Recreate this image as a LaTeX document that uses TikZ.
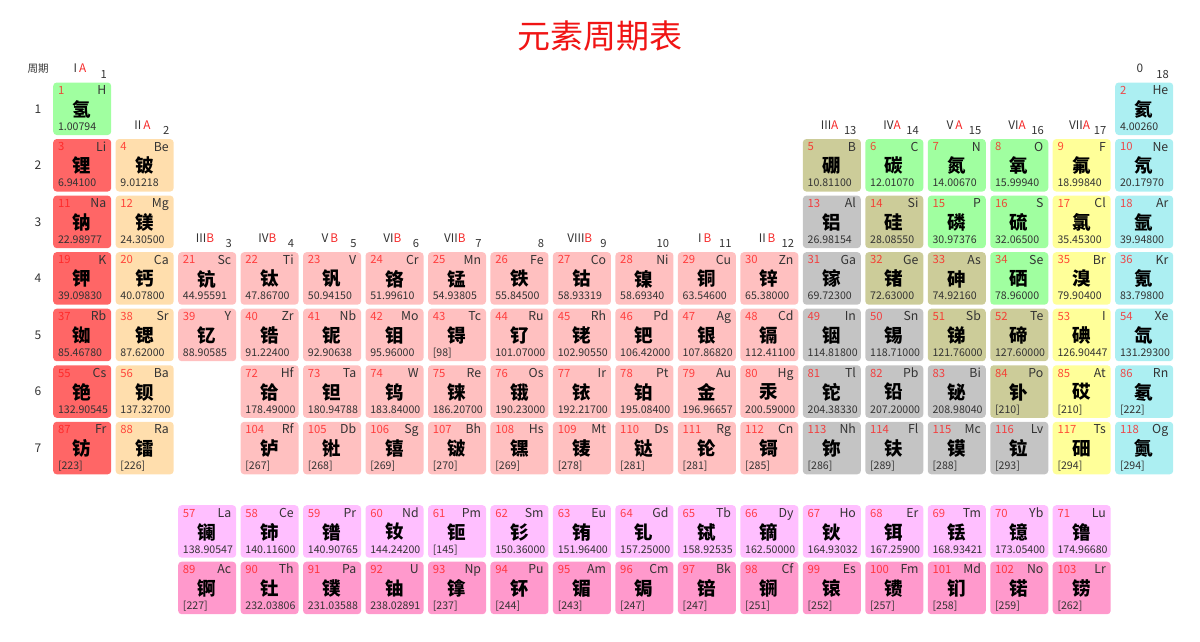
\documentclass[tikz,border=0pt]{standalone}
\usepackage{fontspec}
\setmainfont{Noto Sans CJK SC}
\definecolor{catnm}{HTML}{A0FFA0}
\definecolor{catalk}{HTML}{FF6666}
\definecolor{catae}{HTML}{FFDEAD}
\definecolor{cattm}{HTML}{FFC0C0}
\definecolor{catpt}{HTML}{C4C4C4}
\definecolor{catmd}{HTML}{CCCC99}
\definecolor{cathal}{HTML}{FFFF99}
\definecolor{catng}{HTML}{ACEFF2}
\definecolor{catla}{HTML}{FFBFFF}
\definecolor{catac}{HTML}{FF99CC}
\definecolor{numred}{HTML}{FF1A1A}
\definecolor{txtgray}{HTML}{333333}
\definecolor{lblred}{HTML}{F52828}
\definecolor{titlered}{HTML}{F01414}
\tikzset{
  cell/.style={anchor=north west, minimum width=58pt, minimum height=52.5pt, rounded corners=3.5pt, inner sep=0pt, draw=none},
  anum/.style={anchor=base west, inner sep=0pt, font=\fontsize{11.3}{12}\selectfont, text=numred, text opacity=0.78},
  sym/.style={anchor=base east, inner sep=0pt, font=\fontsize{12.3}{13}\selectfont, text=txtgray},
  cname/.style={inner sep=0pt, font=\fontsize{18.5}{20}\selectfont\bfseries, text=black},
  mass/.style={anchor=base west, inner sep=0pt, font=\fontsize{10.6}{12}\selectfont, text=txtgray},
  grp/.style={anchor=base, inner sep=0pt, font=\fontsize{11.8}{13}\selectfont, text=txtgray},
  grpnum/.style={anchor=base east, inner sep=0pt, font=\fontsize{11.2}{13}\selectfont, text=txtgray},
  per/.style={inner sep=0pt, font=\fontsize{12}{13}\selectfont, text=txtgray},
  ttl/.style={inner sep=0pt, font=\fontsize{33}{36}\selectfont, text=titlered}
}
\begin{document}
\begin{tikzpicture}[x=1pt,y=-1pt]
\useasboundingbox (0,0) rectangle (1200,641);
\node[ttl] (title) at (600,36) {元素周期表};
\node[per, font=\fontsize{10.5}{12}\selectfont] (perhead) at (38,69) {周期};
\foreach \r in {1,...,7}{
  \pgfmathsetmacro\yy{82.3+(\r-1)*56.55+26.5}
  \node[per] (p\r) at (38,\yy) {\r};
}
% group labels: column / top row / roman / letter / number
\foreach \c/\r/\ro/\le/\g in {1/1/I\,/A/1, 2/2/II\,/A/2, 3/4/III/B/3, 4/4/IV/B/4, 5/4/V\,/B/5, 6/4/VI/B/6, 7/4/VII/B/7, 9/4/VIII/B/9, 11/4/I\,/B/11, 12/4/II\,/B/12, 13/2/III/A/13, 14/2/IV/A/14, 15/2/V\,/A/15, 16/2/VI/A/16, 17/2/VII/A/17}{
  \pgfmathsetmacro\xx{53+(\c-1)*62.47}
  \pgfmathsetmacro\yy{82.3+(\r-1)*56.55}
  \node[grp] (gr\c) at (\xx+27,\yy-9.5) {\ro\textcolor{lblred}{\le}};
  \node[grpnum] (gn\c) at (\xx+54,\yy-4.3) {\g};
}
\foreach \c/\g in {8/8, 10/10}{
  \pgfmathsetmacro\xx{53+(\c-1)*62.47}
  \pgfmathsetmacro\yy{82.3+3*56.55}
  \node[grpnum] (gn\c) at (\xx+54,\yy-4.3) {\g};
}
\pgfmathsetmacro\xo{53+17*62.47}
\node[grp] (gr18) at (\xo+25,82.3-9.5) {0};
\node[grpnum] (gn18) at (\xo+54,82.3-4.3) {18};
% elements
\foreach \c/\r/\z/\s/\n/\m/\k in {
1/1/1/H/氢/1.00794/nm, 18/1/2/He/氦/4.00260/ng,
1/2/3/Li/锂/6.94100/alk, 2/2/4/Be/铍/9.01218/ae, 13/2/5/B/硼/10.81100/md, 14/2/6/C/碳/12.01070/nm, 15/2/7/N/氮/14.00670/nm, 16/2/8/O/氧/15.99940/nm, 17/2/9/F/氟/18.99840/hal, 18/2/10/Ne/氖/20.17970/ng,
1/3/11/Na/钠/22.98977/alk, 2/3/12/Mg/镁/24.30500/ae, 13/3/13/Al/铝/26.98154/pt, 14/3/14/Si/硅/28.08550/md, 15/3/15/P/磷/30.97376/nm, 16/3/16/S/硫/32.06500/nm, 17/3/17/Cl/氯/35.45300/hal, 18/3/18/Ar/氩/39.94800/ng,
1/4/19/K/钾/39.09830/alk, 2/4/20/Ca/钙/40.07800/ae, 3/4/21/Sc/钪/44.95591/tm, 4/4/22/Ti/钛/47.86700/tm, 5/4/23/V/钒/50.94150/tm, 6/4/24/Cr/铬/51.99610/tm, 7/4/25/Mn/锰/54.93805/tm, 8/4/26/Fe/铁/55.84500/tm, 9/4/27/Co/钴/58.93319/tm, 10/4/28/Ni/镍/58.69340/tm, 11/4/29/Cu/铜/63.54600/tm, 12/4/30/Zn/锌/65.38000/tm, 13/4/31/Ga/镓/69.72300/pt, 14/4/32/Ge/锗/72.63000/md, 15/4/33/As/砷/74.92160/md, 16/4/34/Se/硒/78.96000/nm, 17/4/35/Br/溴/79.90400/hal, 18/4/36/Kr/氪/83.79800/ng,
1/5/37/Rb/铷/85.46780/alk, 2/5/38/Sr/锶/87.62000/ae, 3/5/39/Y/钇/88.90585/tm, 4/5/40/Zr/锆/91.22400/tm, 5/5/41/Nb/铌/92.90638/tm, 6/5/42/Mo/钼/95.96000/tm, 7/5/43/Tc/锝/[98]/tm, 8/5/44/Ru/钌/101.07000/tm, 9/5/45/Rh/铑/102.90550/tm, 10/5/46/Pd/钯/106.42000/tm, 11/5/47/Ag/银/107.86820/tm, 12/5/48/Cd/镉/112.41100/tm, 13/5/49/In/铟/114.81800/pt, 14/5/50/Sn/锡/118.71000/pt, 15/5/51/Sb/锑/121.76000/md, 16/5/52/Te/碲/127.60000/md, 17/5/53/I/碘/126.90447/hal, 18/5/54/Xe/氙/131.29300/ng,
1/6/55/Cs/铯/132.90545/alk, 2/6/56/Ba/钡/137.32700/ae, 4/6/72/Hf/铪/178.49000/tm, 5/6/73/Ta/钽/180.94788/tm, 6/6/74/W/钨/183.84000/tm, 7/6/75/Re/铼/186.20700/tm, 8/6/76/Os/锇/190.23000/tm, 9/6/77/Ir/铱/192.21700/tm, 10/6/78/Pt/铂/195.08400/tm, 11/6/79/Au/金/196.96657/tm, 12/6/80/Hg/汞/200.59000/tm, 13/6/81/Tl/铊/204.38330/pt, 14/6/82/Pb/铅/207.20000/pt, 15/6/83/Bi/铋/208.98040/pt, 16/6/84/Po/钋/[210]/md, 17/6/85/At/砹/[210]/hal, 18/6/86/Rn/氡/[222]/ng,
1/7/87/Fr/钫/[223]/alk, 2/7/88/Ra/镭/[226]/ae, 4/7/104/Rf/𬬻/[267]/tm, 5/7/105/Db/𬭊/[268]/tm, 6/7/106/Sg/𬭳/[269]/tm, 7/7/107/Bh/𬭛/[270]/tm, 8/7/108/Hs/𬭶/[269]/tm, 9/7/109/Mt/鿏/[278]/tm, 10/7/110/Ds/𫟼/[281]/tm, 11/7/111/Rg/𬬭/[281]/tm, 12/7/112/Cn/鿔/[285]/tm, 13/7/113/Nh/鿭/[286]/pt, 14/7/114/Fl/𫓧/[289]/pt, 15/7/115/Mc/镆/[288]/pt, 16/7/116/Lv/𫟷/[293]/pt, 17/7/117/Ts/鿬/[294]/hal, 18/7/118/Og/鿫/[294]/ng,
3/9/57/La/镧/138.90547/la, 4/9/58/Ce/铈/140.11600/la, 5/9/59/Pr/镨/140.90765/la, 6/9/60/Nd/钕/144.24200/la, 7/9/61/Pm/钷/[145]/la, 8/9/62/Sm/钐/150.36000/la, 9/9/63/Eu/铕/151.96400/la, 10/9/64/Gd/钆/157.25000/la, 11/9/65/Tb/铽/158.92535/la, 12/9/66/Dy/镝/162.50000/la, 13/9/67/Ho/钬/164.93032/la, 14/9/68/Er/铒/167.25900/la, 15/9/69/Tm/铥/168.93421/la, 16/9/70/Yb/镱/173.05400/la, 17/9/71/Lu/镥/174.96680/la,
3/10/89/Ac/锕/[227]/ac, 4/10/90/Th/钍/232.03806/ac, 5/10/91/Pa/镤/231.03588/ac, 6/10/92/U/铀/238.02891/ac, 7/10/93/Np/镎/[237]/ac, 8/10/94/Pu/钚/[244]/ac, 9/10/95/Am/镅/[243]/ac, 10/10/96/Cm/锔/[247]/ac, 11/10/97/Bk/锫/[247]/ac, 12/10/98/Cf/锎/[251]/ac, 13/10/99/Es/锿/[252]/ac, 14/10/100/Fm/镄/[257]/ac, 15/10/101/Md/钔/[258]/ac, 16/10/102/No/锘/[259]/ac, 17/10/103/Lr/铹/[262]/ac}{
  \pgfmathsetmacro\xx{53+(\c-1)*62.47}
  \pgfmathsetmacro\yy{\r<8 ? 82.3+(\r-1)*56.55 : 505+(\r-9)*56.5}
  \node[cell, fill=cat\k] (e\z) at (\xx,\yy) {};
  \node[anum] (n\z) at (\xx+4.8,\yy+12) {\z};
  \node[sym] (s\z) at (\xx+53.5,\yy+12.3) {\s};
  \node[cname] (k\z) at (\xx+29,\yy+27) {\n};
  \node[mass] (m\z) at (\xx+4.8,\yy+48) {\m};
}
\end{tikzpicture}
\end{document}
